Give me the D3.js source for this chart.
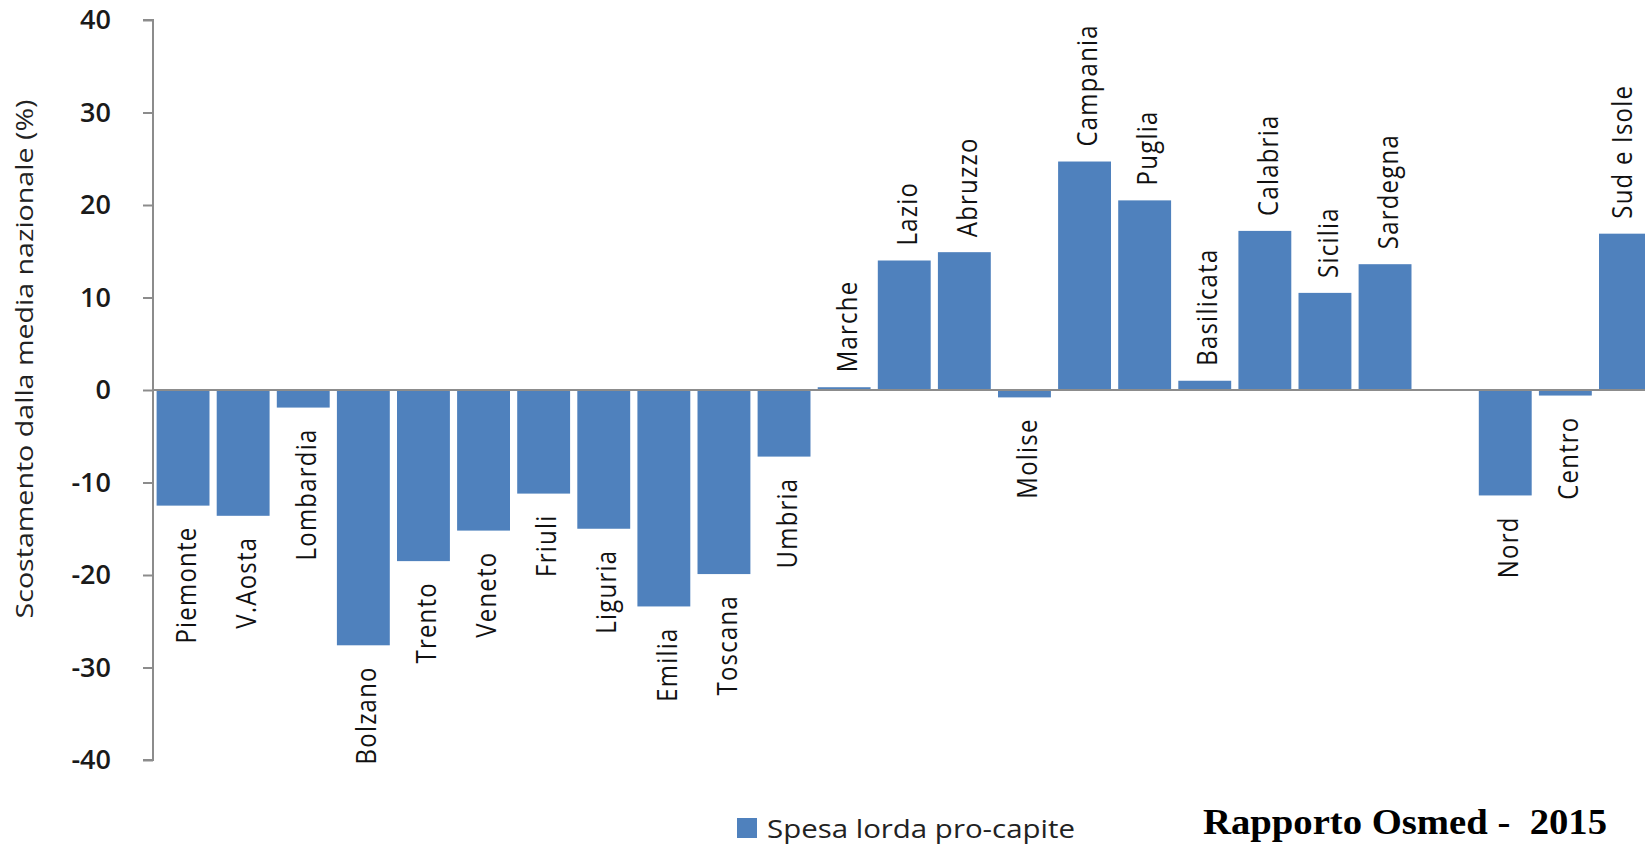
<!DOCTYPE html>
<html>
<head>
<meta charset="utf-8">
<script src="https://cdn.jsdelivr.net/npm/d3@7/dist/d3.min.js"></script>
<style>
  html, body { margin: 0; padding: 0; background: #fff; overflow: hidden; }
  svg { display: block; }
</style>
</head>
<body>
<div id="chart"></div>
<script>
// ---- data ----
const categories = ["Piemonte","V.Aosta","Lombardia","Bolzano","Trento","Veneto","Friuli","Liguria","Emilia","Toscana","Umbria","Marche","Lazio","Abruzzo","Molise","Campania","Puglia","Basilicata","Calabria","Sicilia","Sardegna","","Nord","Centro","Sud e Isole"];
const values = [-12.5,-13.6,-1.9,-27.6,-18.5,-15.2,-11.2,-15.0,-23.4,-19.9,-7.2,0.3,14.0,14.9,-0.8,24.7,20.5,1.0,17.2,10.5,13.6,null,-11.4,-0.6,16.9];
const yTicks = [-40,-30,-20,-10,0,10,20,30,40];
const yTitle = "Scostamento dalla media nazionale (%)";
const legendLabel = "Spesa lorda pro-capite";
const sourceLabel = "Rapporto Osmed -  2015";

const W = 1645, H = 845;
const barColor = "#4F81BD";
const axisColor = "#8c8c8c";

const svg = d3.select("#chart").append("svg")
  .attr("width", W).attr("height", H);

const x0 = 153, slot = 60.1;
const x = d3.scaleBand()
  .domain(categories.map((c, i) => i))
  .range([x0, x0 + slot * categories.length])
  .paddingInner(0.12).paddingOuter(0.06);
const y = d3.scaleLinear().domain([-40, 40]).range([760, 20]);

// y axis
const yAxis = d3.axisLeft(y).tickValues(yTicks).tickSize(10).tickPadding(32)
  .tickFormat(d => String(d));
const gy = svg.append("g").attr("transform", `translate(${x0},0)`).call(yAxis);
gy.select(".domain").attr("stroke", axisColor).attr("stroke-width", 2)
  .attr("d", `M-10,${y(40)}H0V${y(-40)}H-10`);
gy.selectAll(".tick line").attr("stroke", axisColor).attr("stroke-width", 2);
gy.selectAll(".tick text")
  .attr("font-family", "Open Sans, sans-serif")
  .attr("font-weight", 600)
  .attr("font-size", 27)
  .attr("fill", "#1a1a1a");

// bars
const data = categories.map((c, i) => ({ c, i, v: values[i] })).filter(d => d.v !== null);
svg.append("g").selectAll("rect").data(data).join("rect")
  .attr("x", d => x(d.i))
  .attr("width", x.bandwidth())
  .attr("y", d => y(Math.max(0, d.v)))
  .attr("height", d => Math.abs(y(d.v) - y(0)))
  .attr("fill", barColor);

// zero line
svg.append("line")
  .attr("x1", x0).attr("x2", W)
  .attr("y1", y(0)).attr("y2", y(0))
  .attr("stroke", axisColor).attr("stroke-width", 2);

// category labels
svg.append("g").selectAll("text").data(data).join("text")
  .attr("transform", d => {
    const cx = Math.min(x(d.i) + x.bandwidth() / 2 + 2, W - 24);
    const cy = d.v >= 0 ? y(d.v) - 15 : y(d.v) + 21;
    return `translate(${cx},${cy}) rotate(-90) scale(1,1.15)`;
  })
  .attr("text-anchor", d => d.v >= 0 ? "start" : "end")
  .attr("dominant-baseline", "central")
  .attr("font-family", "Open Sans, sans-serif")
  .attr("font-size", 24)
  .attr("letter-spacing", 1.2)
  .attr("fill", "#111")
  .text(d => d.c);

// y title
svg.append("text")
  .attr("transform", `translate(24,359) rotate(-90) scale(1,1.1)`)
  .attr("text-anchor", "middle")
  .attr("dominant-baseline", "central")
  .attr("font-family", "Open Sans, sans-serif")
  .attr("font-size", 22)
  .attr("textLength", 519)
  .attr("lengthAdjust", "spacingAndGlyphs")
  .attr("fill", "#222")
  .text(yTitle);

// legend
svg.append("rect").attr("x", 737).attr("y", 818).attr("width", 20).attr("height", 20).attr("fill", barColor);
svg.append("text")
  .attr("x", 767).attr("y", 838)
  .attr("font-family", "Open Sans, sans-serif")
  .attr("font-size", 26)
  .attr("textLength", 308)
  .attr("lengthAdjust", "spacingAndGlyphs")
  .attr("fill", "#222")
  .text(legendLabel);

// source
svg.append("text")
  .attr("x", 1203).attr("y", 834)
  .attr("font-family", "Liberation Serif, DejaVu Serif, serif")
  .attr("font-weight", "bold")
  .attr("font-size", 35)
  .attr("textLength", 404)
  .attr("lengthAdjust", "spacingAndGlyphs")
  .attr("fill", "#000")
  .style("white-space", "pre")
  .text(sourceLabel);
</script>
</body>
</html>
